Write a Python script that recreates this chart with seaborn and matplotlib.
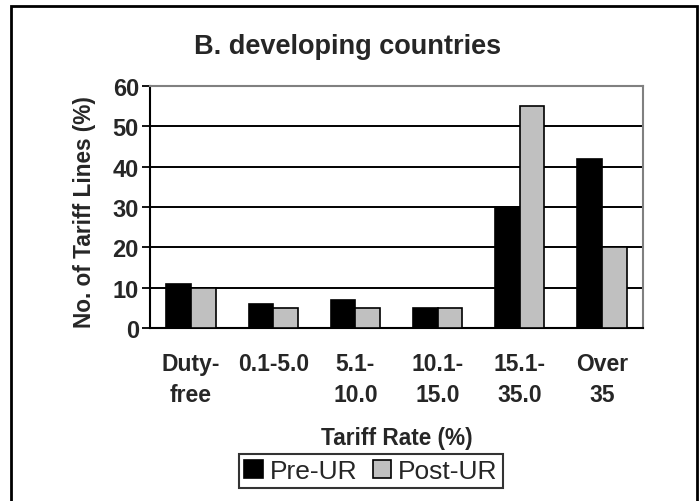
import matplotlib
matplotlib.use("Agg")
import matplotlib.pyplot as plt
import seaborn as sns
import pandas as pd
from matplotlib.patches import Rectangle

categories = ["Duty-\nfree", "0.1-5.0", "5.1-\n10.0", "10.1-\n15.0", "15.1-\n35.0", "Over\n35"]
pre_ur = [11, 6, 7, 5, 30, 42]
post_ur = [10, 5, 5, 5, 55, 20]
series_names = ["Pre-UR", "Post-UR"]
y_ticks = [0, 10, 20, 30, 40, 50, 60]

df = pd.DataFrame({
    "cat": categories * 2,
    "series": [series_names[0]] * len(categories) + [series_names[1]] * len(categories),
    "val": pre_ur + post_ur,
})

sns.set_style("white")
plt.rcParams['font.family'] = ['Liberation Sans', 'DejaVu Sans']

fig = plt.figure(figsize=(6.99, 5.02), dpi=100)
ax = fig.add_axes([150/699, 1-329/502, (643-150)/699, (329-87)/502])

sns.barplot(data=df, x="cat", y="val", hue="series", palette=["black", "#C0C0C0"],
            edgecolor="black", linewidth=1.2, width=0.6, saturation=1, ax=ax, zorder=3,
            legend=True)

ax.set_ylim(0, 60)
ax.set_xlim(-0.5, len(categories) - 0.5)
ax.set_yticks(y_ticks)
ax.set_yticklabels([str(v) for v in y_ticks], fontsize=17, fontweight="bold")
ax.yaxis.grid(True, color="black", linewidth=1.4, zorder=0)
ax.set_axisbelow(True)
ax.xaxis.grid(False)

ax.set_xticks(range(len(categories)))
ax.set_xticklabels(categories, fontsize=16.5, fontweight="bold", linespacing=1.45)
ax.set_xticks([i - 0.5 for i in range(len(categories) + 1)], minor=True)
ax.tick_params(axis="x", which="major", length=0, pad=17)
ax.tick_params(axis="x", which="minor", length=6, width=1.3, direction="out", color="black")
ax.tick_params(axis="y", which="major", length=6, width=1.3, direction="out", color="black", pad=2)
ax.tick_params(axis="both", bottom=True, left=True)

ax.set_xlabel("")
ax.set_ylabel("")
for s in ["left", "bottom"]:
    ax.spines[s].set_color("black")
    ax.spines[s].set_linewidth(1.5)
for s in ["top", "right"]:
    ax.spines[s].set_color("#808080")
    ax.spines[s].set_linewidth(1.5)

handles, labels = ax.get_legend_handles_labels()
ax.get_legend().remove()
leg = fig.legend(handles, labels, loc="center", bbox_to_anchor=(371/699, 1-472/502), ncol=2,
                 fontsize=19, frameon=True, fancybox=False, handlelength=0.7, handleheight=0.7,
                 handletextpad=0.25, columnspacing=0.6, borderpad=0.2, borderaxespad=0)
leg.get_frame().set_edgecolor("black")
leg.get_frame().set_linewidth(1.5)

fig.text(348/699, 1-47/502, "B. developing countries", ha="center", va="center",
         fontsize=19.5, fontweight="bold")
fig.text(85/699, 1-212/502, "No. of Tariff Lines (%)", ha="center", va="center",
         rotation=90, fontsize=16.3, fontweight="bold")
fig.text(397/699, 1-439/502, "Tariff Rate (%)", ha="center", va="center",
         fontsize=16.3, fontweight="bold")

fig.patches.append(Rectangle((11/699, -0.05), (697-11)/699, 1.05 - 7/502,
                             transform=fig.transFigure, fill=False, edgecolor="black",
                             linewidth=2, clip_on=False))

fig.savefig("out.png", dpi=100)
